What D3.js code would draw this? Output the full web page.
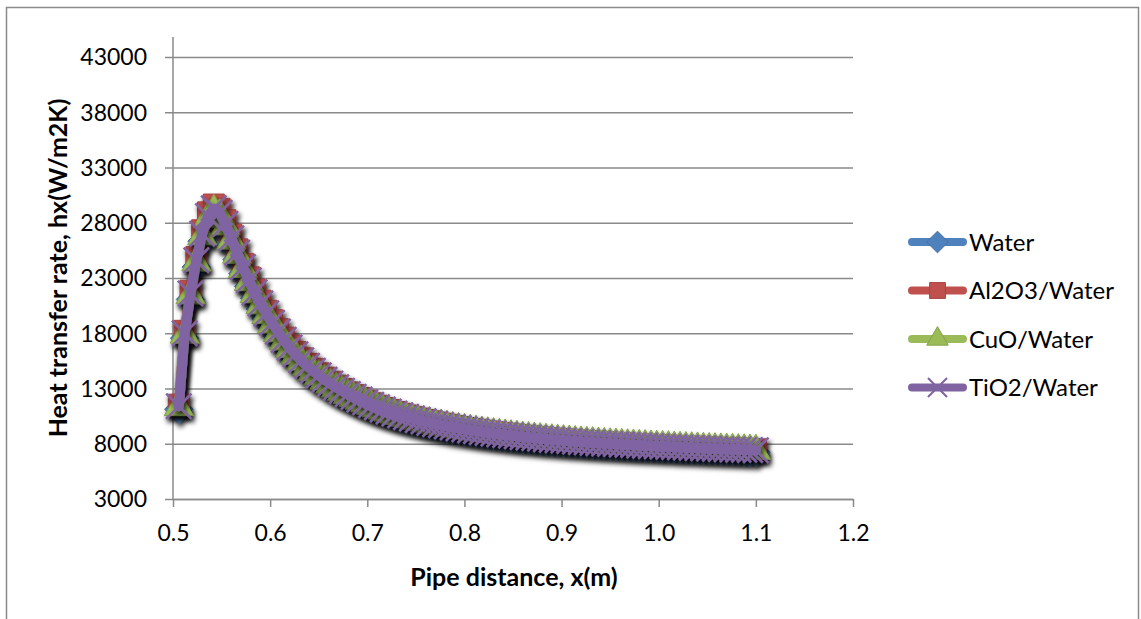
<!DOCTYPE html>
<html>
<head>
<meta charset="utf-8">
<script src="https://cdn.jsdelivr.net/npm/d3@7"></script>
<style>
  body { margin: 0; background: #fff; }
  svg { display: block; font-family: Lato, "Open Sans", sans-serif; }
</style>
</head>
<body>
<svg></svg>
<script>
// pipe distance (m) for every point
const xValues = [
  0.506, 0.512, 0.518, 0.524, 0.530, 0.536, 0.542, 0.548, 0.554, 0.560,
  0.566, 0.572, 0.578, 0.584, 0.590, 0.596, 0.602, 0.608, 0.614, 0.620,
  0.626, 0.632, 0.638, 0.644, 0.650, 0.656, 0.662, 0.668, 0.674, 0.680,
  0.686, 0.692, 0.698, 0.704, 0.710, 0.716, 0.722, 0.728, 0.734, 0.740,
  0.746, 0.752, 0.758, 0.764, 0.770, 0.776, 0.782, 0.788, 0.794, 0.800,
  0.806, 0.812, 0.818, 0.824, 0.830, 0.836, 0.842, 0.848, 0.854, 0.860,
  0.866, 0.872, 0.878, 0.884, 0.890, 0.896, 0.902, 0.908, 0.914, 0.920,
  0.926, 0.932, 0.938, 0.944, 0.950, 0.956, 0.962, 0.968, 0.974, 0.980,
  0.986, 0.992, 0.998, 1.004, 1.010, 1.016, 1.022, 1.028, 1.034, 1.040,
  1.046, 1.052, 1.058, 1.064, 1.070, 1.076, 1.082, 1.088, 1.094, 1.100
];

const water = [
  11120, 17550, 21060, 23990, 26330, 27890, 28570, 28180, 27200, 25940,
  24670, 23400, 22230, 21160, 20180, 19310, 18480, 17700, 16970, 16280,
  15700, 15160, 14670, 14240, 13850, 13460, 13110, 12770, 12480, 12190,
  11940, 11700, 11460, 11230, 11020, 10820, 10650, 10470, 10320, 10170,
  10030, 9910, 9780, 9660, 9560, 9450, 9350, 9250, 9170, 9080,
  9000, 8920, 8840, 8780, 8710, 8640, 8580, 8520, 8460, 8400,
  8360, 8310, 8260, 8210, 8160, 8120, 8080, 8040, 8000, 7970,
  7930, 7900, 7860, 7830, 7800, 7770, 7740, 7710, 7680, 7650,
  7630, 7610, 7590, 7560, 7540, 7510, 7490, 7470, 7450, 7430,
  7400, 7380, 7360, 7340, 7320, 7300, 7280, 7260, 7240, 7220
];

const al2o3 = [
  11540, 18220, 21860, 24900, 27320, 28940, 29650, 29250, 28230, 26920,
  25600, 24290, 23070, 21960, 20950, 20040, 19180, 18370, 17610, 16900,
  16290, 15740, 15230, 14780, 14370, 13970, 13610, 13260, 12950, 12650,
  12400, 12140, 11890, 11660, 11440, 11230, 11050, 10870, 10710, 10560,
  10410, 10280, 10150, 10030, 9920, 9810, 9710, 9600, 9510, 9420,
  9340, 9260, 9180, 9110, 9040, 8970, 8910, 8840, 8780, 8720,
  8670, 8620, 8570, 8520, 8470, 8430, 8390, 8350, 8310, 8270,
  8230, 8200, 8160, 8130, 8100, 8070, 8040, 8000, 7970, 7940,
  7920, 7890, 7870, 7840, 7820, 7790, 7770, 7750, 7730, 7710,
  7680, 7660, 7640, 7620, 7600, 7580, 7560, 7540, 7520, 7500
];

const cuo = [
  11310, 17860, 21430, 24400, 26780, 28370, 29070, 28670, 27680, 26390,
  25100, 23810, 22620, 21530, 20530, 19640, 18800, 18000, 17260, 16570,
  15970, 15430, 14930, 14480, 14090, 13690, 13340, 13000, 12700, 12400,
  12150, 11900, 11660, 11430, 11210, 11010, 10830, 10650, 10500, 10350,
  10210, 10080, 9950, 9830, 9720, 9610, 9510, 9410, 9320, 9240,
  9160, 9080, 9000, 8930, 8860, 8790, 8730, 8670, 8610, 8550,
  8500, 8450, 8400, 8350, 8300, 8260, 8220, 8180, 8140, 8100,
  8060, 8040, 8000, 7970, 7940, 7910, 7880, 7850, 7820, 7790,
  7770, 7740, 7720, 7690, 7670, 7640, 7620, 7600, 7580, 7560,
  7530, 7510, 7490, 7470, 7450, 7430, 7410, 7390, 7370, 7350
];

const tio2 = [
  11400, 18000, 21600, 24600, 27000, 28600, 29300, 28900, 27900, 26600,
  25300, 24000, 22800, 21700, 20700, 19800, 18950, 18150, 17400, 16700,
  16100, 15550, 15050, 14600, 14200, 13800, 13450, 13100, 12800, 12500,
  12250, 12000, 11750, 11520, 11300, 11100, 10920, 10740, 10580, 10430,
  10290, 10160, 10030, 9910, 9800, 9690, 9590, 9490, 9400, 9310,
  9230, 9150, 9070, 9000, 8930, 8860, 8800, 8740, 8680, 8620,
  8570, 8520, 8470, 8420, 8370, 8330, 8290, 8250, 8210, 8170,
  8130, 8100, 8060, 8030, 8000, 7970, 7940, 7910, 7880, 7850,
  7830, 7800, 7780, 7750, 7730, 7700, 7680, 7660, 7640, 7620,
  7590, 7570, 7550, 7530, 7510, 7490, 7470, 7450, 7430, 7410
];

const seriesNames = ["Water", "Al2O3/Water", "CuO/Water", "TiO2/Water"];
const yTicks = [3000, 8000, 13000, 18000, 23000, 28000, 33000, 38000, 43000];
const xTicks = [0.5, 0.6, 0.7, 0.8, 0.9, 1.0, 1.1, 1.2];

const colors = ["#4f81bd", "#c0504d", "#9bbb59", "#8064a2"];
const symbols = [d3.symbolDiamond2, d3.symbolSquare2, d3.symbolTriangle2, d3.symbolX];
const markerSize = [520, 560, 600, 420];
const legendSize = [300, 320, 330, 240];

const W = 1141, H = 619;
const plotLeft = 173, plotRight = 853, plotTop = 37, plotBottom = 499;

const svg = d3.select("svg").attr("width", W).attr("height", H);

const defs = svg.append("defs");
defs.append("filter")
    .attr("id", "shadow")
    .attr("x", "-10%").attr("y", "-10%")
    .attr("width", "130%").attr("height", "130%")
  .append("feDropShadow")
    .attr("dx", 2).attr("dy", 4)
    .attr("stdDeviation", 2.4)
    .attr("flood-color", "#000")
    .attr("flood-opacity", 0.75);

// chart border
svg.append("rect")
    .attr("x", 6.5).attr("y", 7.5)
    .attr("width", 1132).attr("height", 630)
    .attr("fill", "none")
    .attr("stroke", "#8a8a8a")
    .attr("stroke-width", 1.5);

const x = d3.scaleLinear().domain([0.5, 1.2]).range([plotLeft, plotRight]);
const y = d3.scaleLinear().domain([3000, 43000]).range([plotBottom, 57]);

// horizontal gridlines + y ticks
const yAxis = svg.append("g")
    .attr("transform", "translate(" + plotLeft + ",0)")
    .call(d3.axisLeft(y).tickValues(yTicks).tickFormat(d3.format("d")).tickSize(8).tickSizeOuter(0));
yAxis.select(".domain").remove();
yAxis.selectAll(".tick line")
    .attr("x2", -8)
    .clone()
    .attr("x1", 0).attr("x2", plotRight - plotLeft);
yAxis.selectAll(".tick line").attr("stroke", "#8a8a8a").attr("stroke-width", 1.5);
yAxis.selectAll(".tick text")
    .attr("font-size", 23)
    .attr("font-family", "Lato, sans-serif")
    .attr("fill", "#000")
    .attr("x", -26)
    .attr("dy", "0.34em");

// y axis line reaches plot top
svg.append("line")
    .attr("x1", plotLeft).attr("x2", plotLeft)
    .attr("y1", plotTop).attr("y2", plotBottom)
    .attr("stroke", "#8a8a8a").attr("stroke-width", 1.5);

// x axis
const xAxis = svg.append("g")
    .attr("transform", "translate(0," + plotBottom + ")")
    .call(d3.axisBottom(x).tickValues(xTicks).tickFormat(d3.format(".1f")).tickSize(8).tickSizeOuter(0).tickPadding(18));
xAxis.select(".domain").attr("stroke", "#8a8a8a").attr("stroke-width", 1.5);
xAxis.selectAll(".tick line").attr("stroke", "#8a8a8a").attr("stroke-width", 1.5);
xAxis.selectAll(".tick text")
    .attr("font-size", 23)
    .attr("font-family", "Lato, sans-serif")
    .attr("fill", "#000");

// axis titles
svg.append("text")
    .attr("x", 514).attr("y", 586)
    .attr("text-anchor", "middle")
    .attr("font-weight", "bold")
    .attr("font-size", 25)
    .text("Pipe distance, x(m)");

svg.append("text")
    .attr("transform", "translate(67,268) rotate(-90)")
    .attr("text-anchor", "middle")
    .attr("font-weight", "bold")
    .attr("font-size", 25)
    .text("Heat transfer rate, hx(W/m2K)");

// series
const allSeries = [water, al2o3, cuo, tio2];
const line = d3.line()
    .x((d, i) => x(xValues[i]))
    .y(d => y(d));

allSeries.forEach((vals, k) => {
  const g = svg.append("g").attr("filter", "url(#shadow)");
  g.append("path")
      .datum(vals)
      .attr("d", line)
      .attr("fill", "none")
      .attr("stroke", colors[k])
      .attr("stroke-width", 10)
      .attr("stroke-linejoin", "round")
      .attr("stroke-linecap", "round");

  const sym = d3.symbol().type(symbols[k]).size(markerSize[k]);
  g.selectAll("path.m")
    .data(vals)
    .join("path")
      .attr("class", "m")
      .attr("d", sym)
      .attr("transform", (d, i) => "translate(" + x(xValues[i]) + "," + y(d) + ")")
      .attr("fill", k === 3 ? "none" : colors[k])
      .attr("stroke", k === 3 ? colors[k] : d3.color(colors[k]).darker(0.4))
      .attr("stroke-width", k === 3 ? 2.5 : 1);
});

// legend
const legend = svg.append("g");
seriesNames.forEach((name, k) => {
  const cy = 242 + k * 48.5;
  const row = legend.append("g");
  row.append("line")
      .attr("x1", 912).attr("x2", 963)
      .attr("y1", cy).attr("y2", cy)
      .attr("stroke", colors[k])
      .attr("stroke-width", 8)
      .attr("stroke-linecap", "round");
  row.append("path")
      .attr("d", d3.symbol().type(symbols[k]).size(legendSize[k])())
      .attr("transform", "translate(937.5," + cy + ")")
      .attr("fill", k === 3 ? "none" : colors[k])
      .attr("stroke", k === 3 ? colors[k] : d3.color(colors[k]).darker(0.4))
      .attr("stroke-width", k === 3 ? 2 : 1);
  row.append("text")
      .attr("x", 969).attr("y", cy)
      .attr("dy", "0.36em")
      .attr("font-size", 24)
      .text(name);
});
</script>
</body>
</html>
